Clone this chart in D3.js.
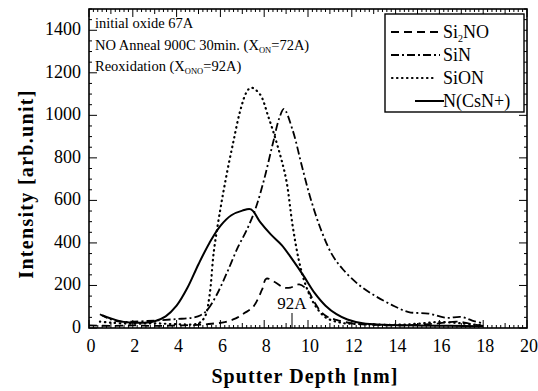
<!DOCTYPE html>
<html>
<head>
<meta charset="utf-8">
<script src="https://cdn.jsdelivr.net/npm/d3@7"></script>
<style>
  body { margin: 0; background: #fff; }
  text { font-family: "Liberation Serif", "Times New Roman", serif; fill: #000; }
</style>
</head>
<body>
<svg id="chart" width="538" height="391"></svg>
<script>
// depth [nm] and intensity [arb.unit]
var si2noDepth = [0, 1, 2, 3, 4, 5, 5.6, 6.2, 6.7, 7.1, 7.5, 7.9, 8.1, 8.5, 8.9, 9.2, 9.6, 10.0, 10.3, 10.6, 10.9, 11.3, 12, 13, 14, 15, 16, 16.8, 17.5, 18];
var si2noValue = [12, 10, 12, 10, 12, 15, 20, 28, 45, 70, 100, 180, 232, 215, 190, 190, 205, 175, 120, 75, 52, 38, 22, 15, 12, 15, 22, 30, 18, 10];

var sinDepth = [0.5, 1, 1.5, 2, 3, 4, 4.7, 5.1, 5.4, 5.8, 6.3, 6.8, 7.2, 7.6, 8.0, 8.4, 8.7, 8.9, 9.3, 9.7, 10.1, 10.6, 11.1, 11.6, 12.3, 13.0, 13.8, 14.6, 15.5, 16.3, 17.0, 17.5, 18];
var sinValue = [65, 40, 30, 30, 35, 42, 48, 60, 85, 150, 260, 380, 460, 560, 700, 870, 990, 1030, 930, 770, 615, 460, 345, 275, 205, 155, 110, 75, 68, 48, 52, 35, 22];

var sionDepth = [0.5, 1, 2, 3, 4, 5, 5.3, 5.5, 5.7, 6.0, 6.3, 6.6, 6.9, 7.2, 7.4, 7.8, 8.2, 8.6, 9.0, 9.3, 9.6, 9.9, 10.3, 10.8, 11.5, 12.5, 14, 15, 16, 17, 18];
var sionValue = [30, 25, 20, 22, 18, 22, 55, 150, 360, 560, 730, 880, 1020, 1110, 1130, 1100, 990, 860, 700, 480, 310, 200, 110, 50, 25, 18, 15, 20, 28, 22, 12];

var nDepth = [0.6, 1.0, 1.5, 2.0, 2.5, 3.0, 3.5, 4.0, 4.5, 5.0, 5.5, 6.0, 6.5, 7.0, 7.4, 7.8, 8.3, 8.8, 9.3, 9.8, 10.3, 10.8, 11.3, 11.8, 12.5, 13.5, 15, 16.5, 18];
var nValue = [60, 45, 30, 25, 25, 32, 55, 105, 190, 300, 400, 480, 530, 552, 558, 500, 440, 390, 320, 245, 165, 105, 65, 40, 22, 15, 12, 10, 8];

var xTicks = [0, 2, 4, 6, 8, 10, 12, 14, 16, 18, 20];
var yTicks = [0, 200, 400, 600, 800, 1000, 1200, 1400];

var series = [
  { name: "Si2NO", depth: si2noDepth, value: si2noValue, dash: "8,5", width: 1.8, cap: "butt", x0: 391, x1: 438 },
  { name: "SiN", depth: sinDepth, value: sinValue, dash: "8,3,2,3", width: 1.8, cap: "butt", x0: 391, x1: 440 },
  { name: "SiON", depth: sionDepth, value: sionValue, dash: "0.5,4.5", width: 2.2, cap: "round", x0: 392, x1: 434 },
  { name: "N(CsN+)", depth: nDepth, value: nValue, dash: null, width: 2, cap: "butt", x0: 415, x1: 444 }
];

var svg = d3.select("#chart");
var pLeft = 89, pRight = 527, pTop = 9, pBottom = 328;

var x = d3.scaleLinear().domain([0, 20]).range([pLeft, pRight]);
var y = d3.scaleLinear().domain([0, 1500]).range([pBottom, pTop]);

// ticks, all pointing inward on the four sides
var minorX = d3.range(0, 20.001, 0.2);
var minorY = d3.range(0, 1500.001, 50);

function tickLen(v, major, mid) {
  if (Math.abs(v / major - Math.round(v / major)) < 1e-6) return 8;
  if (mid && Math.abs(v / mid - Math.round(v / mid)) < 1e-6) return 5;
  return 3;
}

var g = svg.append("g").attr("stroke", "#000").attr("stroke-width", 1);
minorX.forEach(function (v) {
  var l = tickLen(v, 2, 1);
  g.append("line").attr("x1", x(v)).attr("x2", x(v)).attr("y1", pBottom).attr("y2", pBottom - l);
  g.append("line").attr("x1", x(v)).attr("x2", x(v)).attr("y1", pTop).attr("y2", pTop + l);
});
minorY.forEach(function (v) {
  var l = tickLen(v, 200, null);
  g.append("line").attr("y1", y(v)).attr("y2", y(v)).attr("x1", pLeft).attr("x2", pLeft + l);
  g.append("line").attr("y1", y(v)).attr("y2", y(v)).attr("x1", pRight).attr("x2", pRight - l);
});

svg.append("rect")
  .attr("x", pLeft).attr("y", pTop)
  .attr("width", pRight - pLeft).attr("height", pBottom - pTop)
  .attr("fill", "none").attr("stroke", "#000").attr("stroke-width", 1.6);

svg.selectAll(".xl").data(xTicks).enter().append("text")
  .attr("x", function (d) { return x(d) + 2; })
  .attr("y", 352)
  .attr("text-anchor", "middle")
  .attr("font-size", 18)
  .text(function (d) { return d; });

svg.selectAll(".yl").data(yTicks).enter().append("text")
  .attr("x", 81)
  .attr("y", function (d) { return y(d) + 5; })
  .attr("text-anchor", "end")
  .attr("font-size", 18)
  .text(function (d) { return d; });

svg.append("text")
  .attr("x", 305).attr("y", 383)
  .attr("text-anchor", "middle")
  .attr("font-size", 20).attr("font-weight", "bold")
  .attr("letter-spacing", 1.1)
  .text("Sputter Depth [nm]");

svg.append("text")
  .attr("transform", "translate(33,184) rotate(-90)")
  .attr("text-anchor", "middle")
  .attr("font-size", 20).attr("font-weight", "bold")
  .attr("letter-spacing", 1.3)
  .text("Intensity [arb.unit]");

// curves
var line = d3.line()
  .x(function (d) { return x(d[0]); })
  .y(function (d) { return y(d[1]); })
  .curve(d3.curveCatmullRom);

series.forEach(function (s) {
  var pts = s.depth.map(function (d, i) { return [d, s.value[i]]; });
  svg.append("path")
    .attr("d", line(pts))
    .attr("fill", "none")
    .attr("stroke", "#000")
    .attr("stroke-width", s.width)
    .attr("stroke-linecap", s.cap)
    .attr("stroke-dasharray", s.dash);
});

// notes top-left
var notes = svg.append("g").attr("font-size", 14.5);
notes.append("text").attr("x", 95).attr("y", 28).text("initial oxide 67A");
var n2 = notes.append("text").attr("x", 95).attr("y", 50);
n2.append("tspan").text("NO Anneal 900C 30min. (X");
n2.append("tspan").attr("font-size", 8.5).attr("dy", 3).text("ON");
n2.append("tspan").attr("dy", -3).text("=72A)");
var n3 = notes.append("text").attr("x", 95).attr("y", 71);
n3.append("tspan").text("Reoxidation (X");
n3.append("tspan").attr("font-size", 8.5).attr("dy", 3).text("ONO");
n3.append("tspan").attr("dy", -3).text("=92A)");

// 92A marker
svg.append("text").attr("x", 292).attr("y", 309)
  .attr("text-anchor", "middle").attr("font-size", 17).text("92A");
svg.append("line")
  .attr("x1", x(9.27)).attr("x2", x(9.27))
  .attr("y1", 313).attr("y2", pBottom)
  .attr("stroke", "#000").attr("stroke-width", 1);

// legend
var lg = svg.append("g");
lg.append("rect")
  .attr("x", 385).attr("y", 14).attr("width", 139).attr("height", 98)
  .attr("fill", "#fff").attr("stroke", "#000").attr("stroke-width", 1.4);
var labels = [["Si", "2", "NO"], ["SiN"], ["SiON"], ["N(CsN+)"]];
series.forEach(function (s, i) {
  var ly = 32 + i * 23;
  lg.append("line")
    .attr("x1", s.x0).attr("x2", s.x1).attr("y1", ly).attr("y2", ly)
    .attr("stroke", "#000")
    .attr("stroke-width", s.width)
    .attr("stroke-linecap", s.cap)
    .attr("stroke-dasharray", s.dash);
  var t = lg.append("text").attr("x", 443).attr("y", ly + 6).attr("font-size", 18);
  var parts = labels[i];
  t.append("tspan").text(parts[0]);
  if (parts.length > 1) {
    t.append("tspan").attr("font-size", 10).attr("dy", 4).text(parts[1]);
    t.append("tspan").attr("dy", -4).text(parts[2]);
  }
});
</script>
</body>
</html>
